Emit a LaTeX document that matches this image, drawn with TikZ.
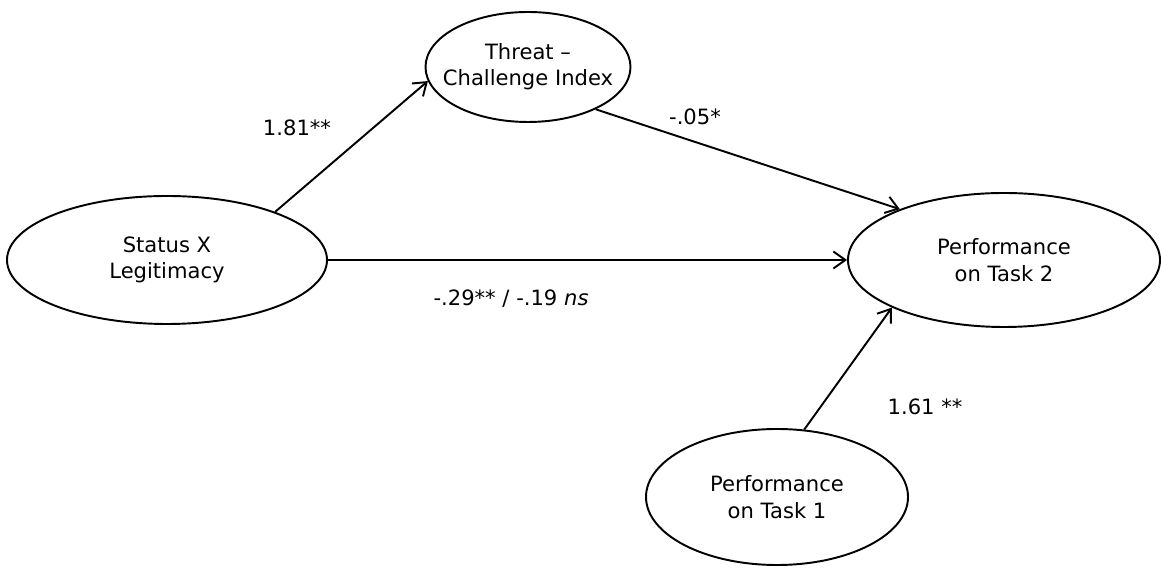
\documentclass[tikz,border=0pt]{standalone}
\usepackage{fontspec}
\setmainfont{DejaVu Sans}
\usepackage{tikz}
\usetikzlibrary{shapes.geometric, arrows.meta, positioning, calc}

\tikzset{
  var/.style={ellipse, draw, line width=1.1pt, align=center, inner sep=-1cm},
  path/.style={line width=1.1pt, -{Straight Barb[length=2.4mm,width=3.4mm,line width=1.1pt]}},
  coef/.style={font=\fontsize{12}{15}\selectfont}
}

\begin{document}
\begin{tikzpicture}[font=\fontsize{12}{15}\selectfont]
  % Canvas
  \useasboundingbox (0,0) rectangle (23.22,11.44);

  % Variables
  \node[var, minimum width=6.4cm, minimum height=2.56cm] (sxl) at (3.34,6.24) {Status X\\Legitimacy};
  \node[var, minimum width=4.1cm, minimum height=2.2cm] (tci) at (10.56,10.1) {Threat –\\Challenge Index};
  \node[var, minimum width=6.24cm, minimum height=2.68cm] (pt2) at (20.08,6.24) {Performance\\on Task 2};
  \node[var, minimum width=5.24cm, minimum height=2.72cm] (pt1) at (15.54,1.5) {Performance\\on Task 1};

  % Paths
  \draw[path] (sxl.24) -- (tci.188);
  \draw[path] (tci.328) -- (pt2.154);
  \draw[path] (sxl.east) -- (pt2.west);
  \draw[path] (pt1.68) -- (pt2.203);

  % Coefficients
  \node[coef] (c1) at (5.94,8.88) {1.81**};
  \node[coef] (c2) at (13.9,9.1) {-.05*};
  \node[coef] (c3) at (10.22,5.46) {-.29** / -.19 \textit{ns}};
  \node[coef] (c4) at (18.5,3.3) {1.61 **};
\end{tikzpicture}
\end{document}
